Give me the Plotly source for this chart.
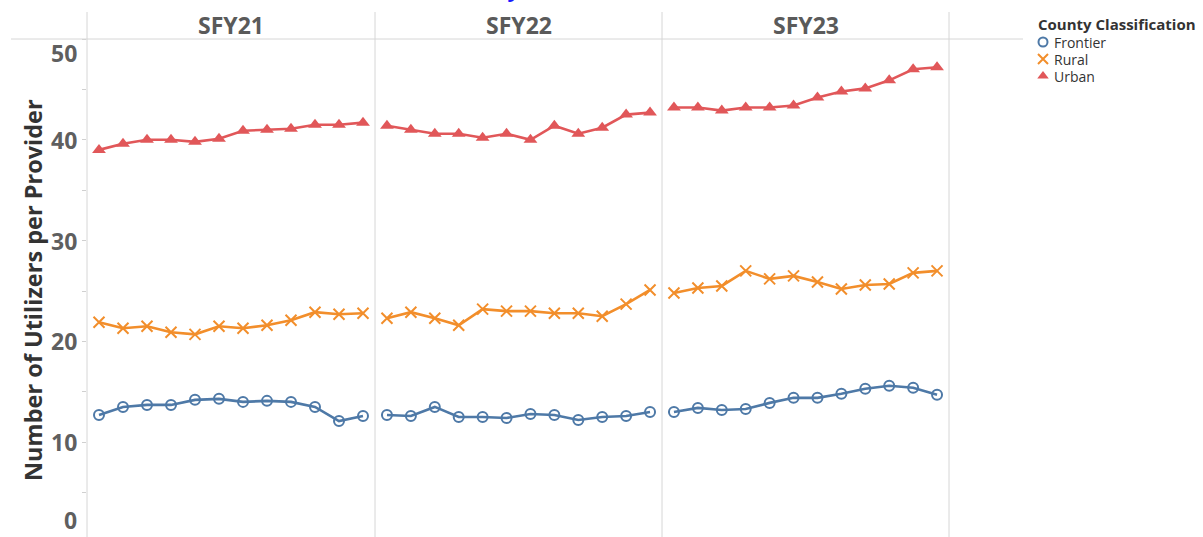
import plotly.graph_objects as go

# Fiscal-year panels and months (state fiscal year starts in July)
years = ["SFY21", "SFY22", "SFY23"]
months = ["Jul", "Aug", "Sep", "Oct", "Nov", "Dec", "Jan", "Feb", "Mar", "Apr", "May", "Jun"]

# Utilizers per provider, one list per year for each county classification
frontier = {
    "SFY21": [12.7, 13.5, 13.7, 13.7, 14.2, 14.3, 14.0, 14.1, 14.0, 13.5, 12.1, 12.6],
    "SFY22": [12.7, 12.6, 13.5, 12.5, 12.5, 12.4, 12.8, 12.7, 12.2, 12.5, 12.6, 13.0],
    "SFY23": [13.0, 13.4, 13.2, 13.3, 13.9, 14.4, 14.4, 14.8, 15.3, 15.6, 15.4, 14.7],
}
rural = {
    "SFY21": [21.9, 21.3, 21.5, 20.9, 20.7, 21.5, 21.3, 21.6, 22.1, 22.9, 22.7, 22.8],
    "SFY22": [22.3, 22.9, 22.3, 21.6, 23.2, 23.0, 23.0, 22.8, 22.8, 22.5, 23.7, 25.1],
    "SFY23": [24.8, 25.3, 25.5, 27.0, 26.2, 26.5, 25.9, 25.2, 25.6, 25.7, 26.8, 27.0],
}
urban = {
    "SFY21": [39.0, 39.6, 40.0, 40.0, 39.8, 40.1, 40.9, 41.0, 41.1, 41.5, 41.5, 41.7],
    "SFY22": [41.4, 41.0, 40.6, 40.6, 40.2, 40.6, 40.0, 41.4, 40.6, 41.2, 42.5, 42.7],
    "SFY23": [43.2, 43.2, 42.9, 43.2, 43.2, 43.4, 44.2, 44.8, 45.1, 45.9, 47.0, 47.2],
}
y_ticks = [0, 10, 20, 30, 40, 50]

classes = [
    ("Frontier", frontier, "#4e79a7", "circle-open", 10),
    ("Rural", rural, "#f28e2b", "x-thin-open", 11),
    ("Urban", urban, "#e15759", "triangle-up", 12),
]

W, H = 1203, 537
L, R, T, B = 87, 0, 39, 0
plot_w, plot_h = W - L - R, H - T - B
panel_edges = [0, 288, 575, 862]          # px offsets of panel borders from the left margin
FONT = "Open Sans"


def px_to_paper_x(px):
    return (px - L) / plot_w


def px_to_paper_y(py):
    return (H - py) / plot_h


fig = go.Figure()

for i, yr in enumerate(years):
    xa = "x" if i == 0 else f"x{i + 1}"
    for name, series, color, symbol, msize in classes:
        marker = dict(symbol=symbol, size=msize, color=color)
        if symbol.endswith("open"):
            marker["line"] = dict(color=color, width=2)
        fig.add_trace(go.Scatter(
            x=months, y=series[yr], mode="lines+markers", name=name,
            line=dict(color=color, width=2.6), marker=marker,
            xaxis=xa, yaxis="y", showlegend=False, cliponaxis=False,
        ))

# y range chosen so that 50 sits on the header line and 0 falls just below the page
px_per_unit = 10.08
y_top = 50
y_bottom = y_top - plot_h / px_per_unit


def value_to_px(v):
    return T + (y_top - v) * px_per_unit


layout = dict(
    width=W, height=H,
    margin=dict(l=L, r=R, t=T, b=B, pad=0),
    paper_bgcolor="white", plot_bgcolor="white",
    showlegend=False,
    font=dict(family=FONT, color="#333333"),
    yaxis=dict(range=[y_bottom, y_top], showgrid=False, zeroline=False,
               showticklabels=False, ticks="outside", ticklen=4, tickwidth=1,
               tickcolor="#d0d0d0", dtick=5, tick0=0, showline=False,
               fixedrange=True),
)
for i in range(3):
    key = "xaxis" if i == 0 else f"xaxis{i + 1}"
    layout[key] = dict(
        domain=[panel_edges[i] / plot_w, panel_edges[i + 1] / plot_w],
        anchor="y", type="category", range=[-0.5, len(months) - 0.5],
        showgrid=False, zeroline=False, showticklabels=False, ticks="",
        showline=False, fixedrange=True,
    )

# legend drawn on its own small axis pair
leg_x0, leg_x1, leg_y0, leg_y1 = 1030, 1200, 40, 90
layout["xaxis4"] = dict(domain=[px_to_paper_x(leg_x0), px_to_paper_x(leg_x1)],
                        range=[leg_x0, leg_x1], visible=False, anchor="y4", fixedrange=True)
layout["yaxis4"] = dict(domain=[px_to_paper_y(leg_y1), px_to_paper_y(leg_y0)],
                        range=[leg_y1, leg_y0], visible=False, anchor="x4", fixedrange=True)
fig.update_layout(**layout)

annotations = []

legend_rows = [42, 59, 76]
for (name, _, color, symbol, msize), ry in zip(classes, legend_rows):
    marker = dict(symbol=symbol, size=min(msize, 11) - 1, color=color)
    if symbol.endswith("open"):
        marker["line"] = dict(color=color, width=2)
    fig.add_trace(go.Scatter(x=[1043], y=[ry], mode="markers", marker=marker,
                             xaxis="x4", yaxis="y4", showlegend=False, cliponaxis=False))
    annotations.append(dict(x=1052, y=ry, xref="x4", yref="y4", text=name, showarrow=False,
                            xanchor="left", yanchor="middle",
                            font=dict(family=FONT, size=14, color="#333333")))

# legend title
annotations.append(dict(x=px_to_paper_x(1036), y=px_to_paper_y(24), xref="paper", yref="paper",
                        text="<b>County Classification</b>", showarrow=False,
                        xanchor="left", yanchor="middle",
                        font=dict(family=FONT, size=15, color="#333333")))

# panel headers
for i, yr in enumerate(years):
    cx = (panel_edges[i] + panel_edges[i + 1]) / 2 / plot_w
    annotations.append(dict(x=cx, y=px_to_paper_y(25), xref="paper", yref="paper",
                            text=f"<b>{yr}</b>", showarrow=False,
                            xanchor="center", yanchor="middle",
                            font=dict(family=FONT, size=23, color="#5a5a5a")))

# y tick labels (end labels nudged inside the pane)
for v in y_ticks:
    py = value_to_px(v)
    if v == y_top:
        py += 14
    elif v == 0:
        py = 520
    annotations.append(dict(x=0, y=px_to_paper_y(py), xref="paper", yref="paper",
                            text=f"<b>{v}</b>", showarrow=False,
                            xanchor="right", yanchor="middle", xshift=-8,
                            font=dict(family=FONT, size=23, color="#5f5f5f")))

# y axis title
annotations.append(dict(x=px_to_paper_x(33), y=px_to_paper_y(290), xref="paper", yref="paper",
                        text="<b>Number of Utilizers per Provider</b>", textangle=-90,
                        showarrow=False, xanchor="center", yanchor="middle",
                        font=dict(family=FONT, size=23.5, color="#333333")))

# report title running off the top of the page
annotations.append(dict(x=px_to_paper_x(508), y=px_to_paper_y(5), xref="paper", yref="paper",
                        text="<b>Utilizers by Provider</b>", showarrow=False,
                        xanchor="center", yanchor="bottom",
                        font=dict(family=FONT, size=22, color="#1a1aff")))

fig.update_layout(annotations=annotations)

# panel borders and header rule
shapes = []
for e in panel_edges:
    shapes.append(dict(type="line", xref="paper", yref="paper",
                       x0=e / plot_w, x1=e / plot_w,
                       y0=px_to_paper_y(H), y1=px_to_paper_y(12),
                       line=dict(color="#d6d6d6", width=1)))
shapes.append(dict(type="line", xref="paper", yref="paper",
                   x0=px_to_paper_x(11), x1=px_to_paper_x(1023),
                   y0=px_to_paper_y(39), y1=px_to_paper_y(39),
                   line=dict(color="#d6d6d6", width=1)))
fig.update_layout(shapes=shapes)

fig.write_html("out.html")
